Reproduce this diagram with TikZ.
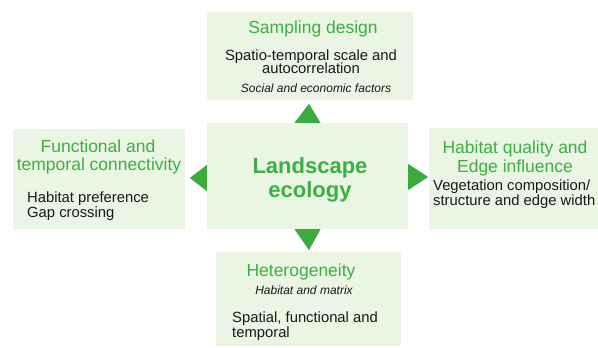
\documentclass[tikz,border=0pt]{standalone}
\usepackage{fontspec}
\setmainfont{Liberation Sans}
\usetikzlibrary{calc}
\definecolor{boxfill}{RGB}{234,245,227}
\definecolor{arrowgreen}{RGB}{61,170,61}
\definecolor{titlegreen}{RGB}{60,176,67}
\definecolor{bodyblack}{RGB}{25,25,25}
\tikzset{
  panel/.style={fill=boxfill, draw=none, inner sep=0pt},
  ttl/.style={text=titlegreen, font=\fontsize{17.5}{20}\selectfont, inner sep=0pt, anchor=base},
  bdy/.style={text=bodyblack, font=\fontsize{14.8}{17}\selectfont, inner sep=0pt},
  itl/.style={text=bodyblack, font=\fontsize{12}{14}\selectfont\itshape, inner sep=0pt, anchor=base},
  ctr/.style={text=titlegreen, font=\fontsize{22}{25}\selectfont\bfseries, inner sep=0pt, anchor=base},
  tri/.style={fill=arrowgreen, draw=none}
}
\begin{document}
\begin{tikzpicture}[x=1pt,y=-1pt]
\useasboundingbox (0,0) rectangle (598,348);
% panels
\node[panel, minimum width=206pt, minimum height=88pt] (top) at (310,56) {};
\node[panel, minimum width=201pt, minimum height=106pt] (mid) at (307.5,176) {};
\node[panel, minimum width=172pt, minimum height=100pt] (left) at (99,179) {};
\node[panel, minimum width=169pt, minimum height=101pt] (right) at (513.5,178.5) {};
\node[panel, minimum width=185pt, minimum height=94pt] (bot) at (308.5,299) {};
% triangles
\fill[tri] ($(mid.north)+(-13,0)$) -- ($(mid.north)+(13,0)$) -- ($(mid.north)+(1.5,-19)$) -- cycle;
\fill[tri] ($(mid.south)+(-13,0)$) -- ($(mid.south)+(13,0)$) -- ($(mid.south)+(1.5,21)$) -- cycle;
\fill[tri] ($(mid.west)+(0,-11)$) -- ($(mid.west)+(0,15)$) -- ($(mid.west)+(-17,2)$) -- cycle;
\fill[tri] ($(mid.east)+(0,-12)$) -- ($(mid.east)+(0,14)$) -- ($(mid.east)+(20,1)$) -- cycle;
% top texts
\node[ttl] (toptitle) at (313,33) {Sampling design};
\node[bdy, anchor=base] (topb1) at (311,60) {Spatio-temporal scale and};
\node[bdy, anchor=base] (topb2) at (311,74) {autocorrelation};
\node[itl] (topit) at (316,92) {Social and economic factors};
% center texts
\node[ctr] (c1) at (310,173) {Landscape};
\node[ctr] (c2) at (310,197) {ecology};
% left texts
\node[ttl] (lt1) at (98,152) {Functional and};
\node[ttl] (lt2) at (99,170) {temporal connectivity};
\node[bdy, anchor=base west] (lb1) at (27,202) {Habitat preference};
\node[bdy, anchor=base west] (lb2) at (27,217) {Gap crossing};
% right texts
\node[ttl] (rt1) at (515,153) {Habitat quality and};
\node[ttl] (rt2) at (515,172) {Edge influence};
\node[bdy, anchor=base west] (rb1) at (433,190) {Vegetation composition/};
\node[bdy, anchor=base west] (rb2) at (433,205) {structure and edge width};
% bottom texts
\node[ttl] (bt) at (301,276) {Heterogeneity};
\node[itl] (bit) at (304,294) {Habitat and matrix};
\node[bdy, anchor=base west] (bb1) at (232,322) {Spatial, functional and};
\node[bdy, anchor=base west] (bb2) at (232,337) {temporal};
\end{tikzpicture}
\end{document}
